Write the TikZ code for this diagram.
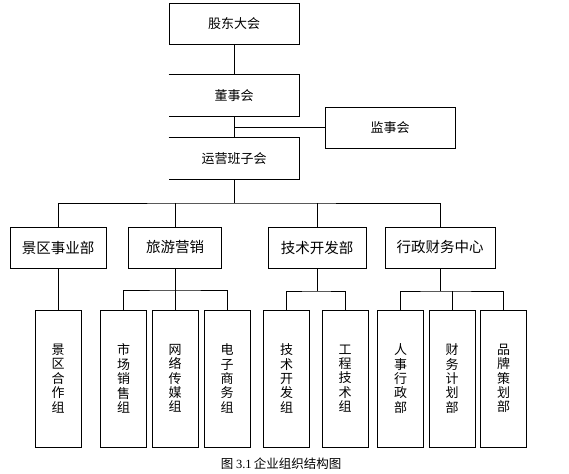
\documentclass[tikz,border=0pt]{standalone}
\usepackage{fontspec}
\setmainfont{Noto Sans CJK SC}
\newfontfamily\capserif{Liberation Serif}
\begin{document}
\begin{tikzpicture}[x=1pt,y=-1pt,line width=0.8pt,
  topbox/.style={rectangle,inner sep=0pt,minimum width=130pt,minimum height=41pt,font=\fontsize{13}{15}\selectfont},
  deptbox/.style={draw,rectangle,inner sep=0pt,minimum height=41pt,font=\fontsize{14.5}{17}\selectfont},
  groupbox/.style={draw,rectangle,inner sep=0pt,minimum width=46pt,minimum height=137pt,align=center,font=\fontsize{13}{14.4}\selectfont},
  link/.style={draw,line width=0.8pt}]
\useasboundingbox (0,0) rectangle (569,473);
% top level
\node[topbox,draw] (gd) at (234,23.5) {股东大会};
\node[topbox] (ds) at (234,95.5) {董事会};
\node[topbox,draw] (jsh) at (390,127.5) {监事会};
\node[topbox] (yy) at (234,158.5) {运营班子会};
\draw (ds.north west) -- (ds.north east) -- (ds.south east) -- (ds.south west);
\draw (yy.north west) -- (yy.north east) -- (yy.south east) -- (yy.south west);
% departments
\node[deptbox,minimum width=96pt] (jq) at (58,247.5) {景区事业部};
\node[deptbox,minimum width=93pt] (ly) at (175,247.5) {旅游营销};
\node[deptbox,minimum width=98pt] (js) at (317,247.5) {技术开发部};
\node[deptbox,minimum width=110pt] (xz) at (440,247.5) {行政财务中心};
% groups
\node[groupbox] (g1) at (58,378.5) {景\\区\\合\\作\\组};
\node[groupbox] (g2) at (123.5,378.5) {市\\场\\销\\售\\组};
\node[groupbox] (g3) at (175,378.5) {网\\络\\传\\媒\\组};
\node[groupbox] (g4) at (227,378.5) {电\\子\\商\\务\\组};
\node[groupbox] (g5) at (286.5,378.5) {技\\术\\开\\发\\组};
\node[groupbox] (g6) at (345,378.5) {工\\程\\技\\术\\组};
\node[groupbox] (g7) at (400.5,378.5) {人\\事\\行\\政\\部};
\node[groupbox] (g8) at (452,378.5) {财\\务\\计\\划\\部};
\node[groupbox] (g9) at (503.5,378.5) {品\\牌\\策\\划\\部};
% bus coordinates
\coordinate (bus) at (234,203);
\coordinate (b2) at (175,290);
\coordinate (b3) at (317,291);
\coordinate (b4) at (440,291);
% connectors
\draw[link] (gd.south) -- (ds.north);
\draw[link] (ds.south) -- (yy.north);
\draw[link] (jsh.west) -- (jsh.west -| ds.south);
\draw[link] (yy.south) -- (bus);
\draw[link] (jq.north) |- (bus) -| (xz.north);
\draw[link] (ly.north) -- (ly.north |- bus);
\draw[link] (js.north) -- (js.north |- bus);
\draw[link] (jq.south) -- (g1.north);
\draw[link] (ly.south) -- (g3.north);
\draw[link] (g2.north) |- (b2) -| (g4.north);
\draw[link] (js.south) -- (b3);
\draw[link] (g5.north) |- (b3) -| (g6.north);
\draw[link] (xz.south) -- (b4);
\draw[link] (g7.north) |- (b4) -| (g9.north);
\draw[link] (g8.north) -- (g8.north |- b4);
% caption
\node[font=\fontsize{12.5}{14}\selectfont] (cap) at (281,464) {图 {\capserif 3.1}\,企业组织结构图};
\end{tikzpicture}
\end{document}
